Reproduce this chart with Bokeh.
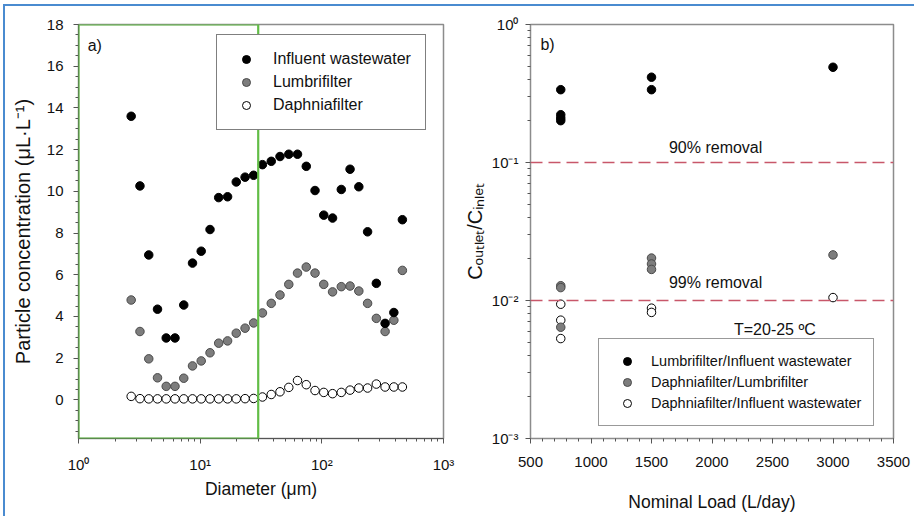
from bokeh.plotting import figure
from bokeh.models import (Range1d, FixedTicker, Legend, LegendItem, BoxAnnotation,
                          Span, Label)
from bokeh.layouts import row
from bokeh.embed import file_html
from bokeh.resources import INLINE

# ---------------- data: panel a ----------------
diameter_um = [2.71, 3.20, 3.78, 4.46, 5.26, 6.21, 7.33, 8.65, 10.2, 12.05, 14.2, 16.8,
               19.8, 23.4, 27.5, 32.5, 38.4, 45.3, 53.5, 63.1, 74.5, 87.9, 103.7, 122.5,
               144.5, 170.6, 201.4, 237.7, 280.5, 331.1, 390.8, 459.2]
influent = [13.6, 10.26, 6.95, 4.35, 2.97, 2.97, 4.55, 6.56, 7.13, 8.17, 9.70, 9.74,
            10.45, 10.68, 10.77, 11.28, 11.44, 11.67, 11.78, 11.78, 11.2, 10.04, 8.86, 8.72,
            10.09, 11.06, 10.22, 8.06, 5.59, 3.67, 4.19, 8.64]
lumbrifilter = [4.79, 3.28, 1.97, 1.06, 0.65, 0.65, 1.04, 1.63, 1.87, 2.26, 2.72, 2.83,
                3.2, 3.44, 3.69, 4.17, 4.63, 5.03, 5.54, 6.08, 6.37, 6.08, 5.54, 5.18,
                5.43, 5.46, 5.22, 4.63, 3.91, 3.28, 3.82, 6.21]
daphniafilter = [0.17, 0.06, 0.05, 0.05, 0.05, 0.05, 0.05, 0.05, 0.05, 0.05, 0.05, 0.05,
                 0.05, 0.06, 0.07, 0.14, 0.26, 0.39, 0.6, 0.93, 0.73, 0.45, 0.36, 0.3,
                 0.36, 0.47, 0.57, 0.57, 0.76, 0.62, 0.62, 0.62]
highlight_diameter = [1, 30]
x_tick_labels_a = {1: "10⁰", 10: "10¹", 100: "10²", 1000: "10³"}

# ---------------- data: panel b ----------------
load_lumbri_influent = [750, 750, 750, 750, 1500, 1500, 3000]
ratio_lumbri_influent = [0.337, 0.222, 0.210, 0.201, 0.415, 0.337, 0.49]
load_daphnia_lumbri = [750, 750, 750, 1500, 1500, 1500, 3000]
ratio_daphnia_lumbri = [0.0128, 0.0124, 0.0064, 0.0203, 0.0184, 0.0168, 0.0214]
load_daphnia_influent = [750, 750, 750, 1500, 1500, 3000]
ratio_daphnia_influent = [0.0094, 0.0072, 0.0053, 0.0088, 0.0082, 0.0105]
removal_levels = [0.1, 0.01]
removal_labels = ["90% removal", "99% removal"]
y_tick_labels_b = {1: "10⁰", 0.1: "10⁻¹", 0.01: "10⁻²", 0.001: "10⁻³"}

FONT = "Liberation Sans"
GREEN = "#62bd46"
RED = "#c8576a"
GRAY_FILL = "#7d7d7d"
GRAY_LINE = "#4a4a4a"
MS = 8.5


def style(p):
    p.background_fill_color = "white"
    p.border_fill_color = "white"
    p.outline_line_color = "#8c8c8c"
    p.outline_line_width = 1.5
    p.xgrid.grid_line_color = None
    p.ygrid.grid_line_color = None
    for ax in p.axis:
        ax.axis_label_text_font = FONT
        ax.axis_label_text_font_size = "17.5px"
        ax.axis_label_text_font_style = "normal"
        ax.axis_label_text_color = "#111111"
        ax.major_label_text_font = FONT
        ax.major_label_text_font_size = "15px"
        ax.major_label_text_color = "#111111"
        ax.major_tick_in = 0
        ax.major_tick_out = 5
        ax.minor_tick_in = 0
        ax.minor_tick_out = 3
        ax.axis_line_color = "#555555"
        ax.major_tick_line_color = "#555555"
        ax.minor_tick_line_color = "#555555"


# ---------------- panel a ----------------
p1 = figure(width=455, height=510, x_axis_type="log",
            x_range=Range1d(1, 1000), y_range=Range1d(-1.85, 18),
            output_backend="svg", toolbar_location=None,
            min_border_left=73, min_border_right=17, min_border_top=18, min_border_bottom=77)
style(p1)
p1.xaxis.axis_label = "Diameter (μm)"
p1.yaxis.axis_label = "Particle concentration (μL·L⁻¹)"
p1.yaxis.axis_label_text_font_size = "20px"
p1.xaxis.ticker = FixedTicker(ticks=[1, 10, 100, 1000],
                              minor_ticks=[m * 10 ** k for k in range(3) for m in range(2, 10)])
p1.xaxis.major_label_overrides = x_tick_labels_a
p1.xaxis.major_label_standoff = 12
p1.xaxis.axis_label_standoff = 3
p1.yaxis.ticker = FixedTicker(ticks=list(range(0, 19, 2)),
                              minor_ticks=[v * 0.5 for v in range(-3, 37)])
p1.yaxis.major_label_standoff = 10
p1.yaxis.axis_label_standoff = 10

r_daph = p1.scatter(diameter_um, daphniafilter, marker="circle", size=MS,
                    fill_color="white", line_color="black", line_width=1)
r_lumb = p1.scatter(diameter_um, lumbrifilter, marker="circle", size=MS,
                    fill_color=GRAY_FILL, line_color=GRAY_LINE, line_width=1)
r_infl = p1.scatter(diameter_um, influent, marker="circle", size=MS,
                    fill_color="black", line_color="black", line_width=1)

p1.add_layout(BoxAnnotation(left=highlight_diameter[0], right=highlight_diameter[1],
                            fill_color=None, fill_alpha=0, line_color=GREEN,
                            line_width=2.2, line_alpha=1))
p1.add_layout(Label(x=1.19, y=17.0, text="a)", text_baseline="middle",
                    text_font=FONT, text_font_size="16px", text_color="#111111"))

leg1 = Legend(items=[LegendItem(label="Influent wastewater", renderers=[r_infl]),
                     LegendItem(label="Lumbrifilter", renderers=[r_lumb]),
                     LegendItem(label="Daphniafilter", renderers=[r_daph])],
              location=(138, 308), margin=0, padding=14, spacing=3,
              glyph_width=30, glyph_height=20, label_height=20, label_standoff=12,
              label_text_font=FONT, label_text_font_size="16px", label_text_color="#111111",
              border_line_color="black", border_line_width=1.2,
              background_fill_color="white", background_fill_alpha=1)
p1.add_layout(leg1)

# ---------------- panel b ----------------
p2 = figure(width=454, height=510, y_axis_type="log",
            x_range=Range1d(500, 3500), y_range=Range1d(0.001, 1),
            output_backend="svg", toolbar_location=None,
            min_border_left=67, min_border_right=21, min_border_top=18, min_border_bottom=78)
style(p2)
p2.xaxis.axis_label = "Nominal Load (L/day)"
p2.yaxis.axis_label = "Cₒᵤₜₗₑₜ/Cᵢₙₗₑₜ"
p2.yaxis.axis_label_text_font_size = "20px"
p2.xaxis.ticker = FixedTicker(ticks=list(range(500, 3501, 500)),
                              minor_ticks=list(range(500, 3501, 100)))
p2.xaxis.major_label_standoff = 13
p2.xaxis.axis_label_standoff = 22
p2.yaxis.ticker = FixedTicker(ticks=[0.001, 0.01, 0.1, 1],
                              minor_ticks=[m * 10.0 ** k for k in (-3, -2, -1) for m in range(2, 10)])
p2.yaxis.major_label_overrides = y_tick_labels_b
p2.yaxis.major_label_standoff = 7
p2.yaxis.axis_label_standoff = 3
for ax in p2.axis:
    ax.axis_line_color = "#8c8c8c"

for lvl in removal_levels:
    p2.add_layout(Span(location=lvl, dimension="width", line_color=RED,
                       line_dash="12 6", line_width=1.4))

for lbl, y in zip(removal_labels, [0.129, 0.0136]):
    p2.add_layout(Label(x=2030, y=y, text=lbl, text_align="center", text_baseline="middle",
                        text_font=FONT, text_font_size="16px", text_color="#111111"))
p2.add_layout(Label(x=2520, y=0.0062, text="T=20-25 ºC", text_align="center",
                    text_baseline="middle", text_font=FONT, text_font_size="16px",
                    text_color="#111111"))
p2.add_layout(Label(x=582, y=0.716, text="b)", text_baseline="middle",
                    text_font=FONT, text_font_size="16px", text_color="#111111"))

s_di = p2.scatter(load_daphnia_influent, ratio_daphnia_influent, marker="circle", size=MS,
                  fill_color="white", line_color="black", line_width=1)
s_dl = p2.scatter(load_daphnia_lumbri, ratio_daphnia_lumbri, marker="circle", size=MS,
                  fill_color=GRAY_FILL, line_color=GRAY_LINE, line_width=1)
s_li = p2.scatter(load_lumbri_influent, ratio_lumbri_influent, marker="circle", size=MS,
                  fill_color="black", line_color="black", line_width=1)

leg2 = Legend(items=[LegendItem(label="Lumbrifilter/Influent wastewater", renderers=[s_li]),
                     LegendItem(label="Daphniafilter/Lumbrifilter", renderers=[s_dl]),
                     LegendItem(label="Daphniafilter/Influent wastewater", renderers=[s_di])],
              location=(68, 12), margin=0, padding=12, spacing=1,
              glyph_width=32, glyph_height=20, label_height=20, label_standoff=8,
              label_text_font=FONT, label_text_font_size="14.5px", label_text_color="#111111",
              border_line_color="#333333", border_line_width=1.2,
              background_fill_color="white", background_fill_alpha=1)
p2.add_layout(leg2)

layout = row(p1, p2, styles={"border-top": "2px solid #4a8bd0",
                             "border-left": "2px solid #4a8bd0",
                             "margin-left": "3px", "margin-top": "3.5px"})

open("out.html", "w").write(file_html(layout, INLINE))
